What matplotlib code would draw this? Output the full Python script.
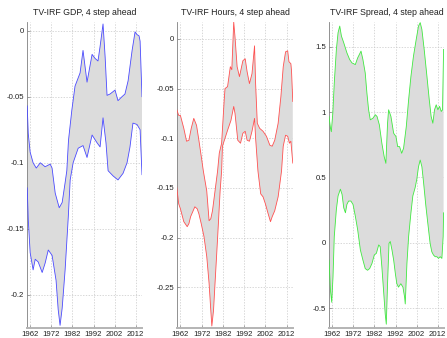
import numpy as np
import matplotlib
matplotlib.use('Agg')
import matplotlib.pyplot as plt
from matplotlib.ticker import FuncFormatter

plt.rcParams['font.family'] = ['Liberation Sans', 'DejaVu Sans']
plt.rcParams['axes.unicode_minus'] = False

# ---- GDP ----
gdp_up_t = [1960.5, 1961.0, 1961.9, 1963.3, 1964.8, 1966.7, 1969.0, 1971.4, 1972.3, 1973.8,
            1975.7, 1977.1, 1978.5, 1979.3, 1980.1, 1981.7, 1983.2, 1985.6, 1987.0, 1988.9,
            1991.3, 1992.7, 1994.1, 1995.1, 1996.5, 1997.5, 1998.4, 1999.8, 2002.2, 2003.6,
            2005.5, 2006.9, 2008.4, 2010.3, 2011.7, 2012.6, 2013.6, 2014.1, 2015.0]
gdp_up = [-0.057, -0.078, -0.092, -0.100, -0.104, -0.100, -0.103, -0.101, -0.104, -0.123,
          -0.134, -0.130, -0.115, -0.106, -0.083, -0.060, -0.042, -0.032, -0.015, -0.039,
          -0.018, -0.021, -0.023, -0.012, 0.005, -0.020, -0.049, -0.048, -0.045, -0.053,
          -0.050, -0.048, -0.038, -0.015, -0.001, -0.003, -0.004, -0.008, -0.050]
gdp_lo_t = [1960.5, 1961.0, 1961.9, 1963.3, 1964.3, 1965.7, 1967.6, 1969.0, 1970.5, 1972.3,
            1974.2, 1975.2, 1976.1, 1977.1, 1978.5, 1980.0, 1980.9, 1982.3, 1984.7, 1987.0,
            1988.9, 1991.3, 1993.7, 1995.1, 1996.5, 1997.9, 1998.9, 2001.3, 2003.6, 2006.0,
            2007.9, 2009.3, 2010.7, 2012.6, 2014.1, 2015.0]
gdp_lo = [-0.119, -0.143, -0.168, -0.181, -0.173, -0.175, -0.183, -0.176, -0.166, -0.170,
          -0.189, -0.211, -0.223, -0.210, -0.181, -0.141, -0.113, -0.100, -0.089, -0.087,
          -0.096, -0.079, -0.085, -0.088, -0.066, -0.085, -0.106, -0.110, -0.113, -0.108,
          -0.100, -0.088, -0.070, -0.071, -0.075, -0.109]

# ---- Hours ----
hrs_up_t = [1960.1, 1961.2, 1962.0, 1963.6, 1964.9, 1966.0, 1967.1, 1968.3, 1969.6, 1970.7,
            1971.8, 1972.8, 1974.4, 1975.5, 1976.3, 1977.1, 1978.3, 1979.5, 1980.3, 1981.4,
            1982.6, 1983.0, 1984.2, 1985.5, 1986.2, 1987.1, 1987.7, 1988.7, 1989.8, 1991.4,
            1992.5, 1993.4, 1994.5, 1995.7, 1996.9, 1997.4, 1998.2, 1999.3, 2000.9, 2002.5,
            2004.1, 2005.2, 2006.4, 2008.0, 2009.3, 2010.4, 2011.5, 2012.5, 2013.1, 2014.0,
            2014.3, 2014.9]
hrs_up = [-0.070, -0.077, -0.077, -0.090, -0.103, -0.102, -0.090, -0.080, -0.087, -0.102,
          -0.118, -0.133, -0.153, -0.183, -0.181, -0.173, -0.153, -0.133, -0.115, -0.105,
          -0.062, -0.050, -0.048, -0.028, -0.031, 0.017, 0.002, -0.028, -0.038, -0.022,
          -0.020, -0.033, -0.045, -0.035, -0.007, -0.045, -0.085, -0.090, -0.093, -0.098,
          -0.107, -0.108, -0.102, -0.085, -0.058, -0.028, -0.013, -0.012, -0.023, -0.025,
          -0.032, -0.063]
hrs_lo_t = [1960.1, 1961.2, 1962.0, 1963.6, 1965.2, 1966.0, 1966.8, 1968.0, 1968.8, 1969.9,
            1970.7, 1971.8, 1973.1, 1974.4, 1975.5, 1976.3, 1976.8, 1977.6, 1978.3, 1979.1,
            1979.8, 1980.7, 1981.4, 1981.8, 1984.2, 1985.8, 1987.1, 1987.7, 1989.0, 1990.3,
            1991.4, 1992.5, 1993.4, 1994.5, 1995.7, 1996.9, 1997.4, 1998.5, 1999.8, 2000.9,
            2002.0, 2003.3, 2004.4, 2005.2, 2006.4, 2008.0, 2008.8, 2009.6, 2010.4, 2011.5,
            2012.5, 2013.3, 2014.0, 2014.9]
hrs_lo = [-0.146, -0.166, -0.171, -0.184, -0.189, -0.186, -0.179, -0.173, -0.169, -0.171,
          -0.176, -0.186, -0.199, -0.219, -0.246, -0.273, -0.289, -0.273, -0.246, -0.216,
          -0.189, -0.153, -0.133, -0.108, -0.092, -0.082, -0.068, -0.075, -0.102, -0.105,
          -0.095, -0.093, -0.102, -0.103, -0.093, -0.080, -0.100, -0.133, -0.156, -0.159,
          -0.166, -0.176, -0.184, -0.179, -0.173, -0.159, -0.146, -0.133, -0.108, -0.097,
          -0.098, -0.105, -0.103, -0.125]

# ---- Spread ----
spr_up_t = [1960.4, 1961.1, 1961.5, 1962.2, 1962.9, 1963.9, 1964.7, 1965.5, 1966.3, 1967.4,
            1968.9, 1970.2, 1971.3, 1972.9, 1974.0, 1975.6, 1976.5, 1977.6, 1978.4, 1979.2,
            1980.0, 1981.3, 1982.4, 1983.2, 1984.3, 1985.5, 1986.6, 1987.4, 1988.2, 1988.7,
            1989.8, 1991.1, 1992.2, 1993.0, 1993.9, 1994.9, 1995.8, 1997.1, 1998.2, 1999.3,
            2000.5, 2001.8, 2002.9, 2003.7, 2004.5, 2005.6, 2006.9, 2008.0, 2008.9, 2009.7,
            2010.5, 2011.3, 2012.1, 2012.9, 2013.7, 2014.3, 2014.8]
spr_up = [0.967, 0.877, 0.850, 0.990, 1.223, 1.480, 1.608, 1.659, 1.582, 1.531,
          1.454, 1.403, 1.377, 1.364, 1.415, 1.467, 1.403, 1.300, 1.146, 1.018,
          0.941, 0.954, 0.980, 0.967, 0.903, 0.762, 0.659, 0.608, 0.915, 1.018,
          0.967, 0.838, 0.813, 0.736, 0.736, 0.685, 0.723, 0.890, 1.095, 1.274,
          1.428, 1.556, 1.659, 1.685, 1.633, 1.479, 1.274, 1.095, 0.967, 0.915,
          1.018, 1.056, 1.018, 1.044, 1.005, 1.018, 1.480]
spr_lo_t = [1960.4, 1961.1, 1961.7, 1962.3, 1962.9, 1963.9, 1964.7, 1965.8, 1966.6, 1967.4,
            1968.2, 1968.9, 1969.7, 1970.8, 1971.8, 1972.9, 1974.0, 1975.3, 1976.5, 1977.6,
            1978.7, 1979.7, 1980.8, 1981.9, 1982.9, 1984.0, 1984.7, 1985.5, 1986.3, 1987.1,
            1987.6, 1988.2, 1988.9, 1989.5, 1990.3, 1991.1, 1991.9, 1992.6, 1993.4, 1994.5,
            1995.5, 1996.3, 1996.6, 1997.4, 1998.2, 1999.3, 2000.2, 2001.3, 2002.1, 2002.9,
            2003.7, 2004.5, 2005.3, 2006.4, 2007.3, 2008.4, 2009.2, 2010.0, 2010.8, 2011.6,
            2012.4, 2013.2, 2014.0, 2014.6, 2014.8]
spr_lo = [-0.133, -0.366, -0.456, -0.262, 0.047, 0.255, 0.358, 0.410, 0.370, 0.267,
          0.229, 0.293, 0.319, 0.319, 0.293, 0.203, 0.100, -0.056, -0.133, -0.198,
          -0.211, -0.198, -0.159, -0.094, -0.081, -0.017, -0.030, -0.185, -0.366, -0.547,
          -0.624, -0.314, -0.004, 0.009, -0.056, -0.133, -0.236, -0.314, -0.340, -0.314,
          -0.340, -0.417, -0.469, -0.159, 0.047, 0.229, 0.358, 0.422, 0.487, 0.582,
          0.633, 0.582, 0.461, 0.280, 0.151, -0.004, -0.069, -0.094, -0.107, -0.107,
          -0.120, -0.107, -0.120, 0.047, 0.229]

panels = [
    ('TV-IRF GDP, 4 step ahead', gdp_up_t, gdp_up, gdp_lo_t, gdp_lo, '#4a4aff',
     (-0.225, 0.0065), [-0.2, -0.15, -0.1, -0.05, 0]),
    ('TV-IRF Hours, 4 step ahead', hrs_up_t, hrs_up, hrs_lo_t, hrs_lo, '#ff5050',
     (-0.291, 0.017), [-0.25, -0.2, -0.15, -0.1, -0.05, 0]),
    ('TV-IRF Spread, 4 step ahead', spr_up_t, spr_up, spr_lo_t, spr_lo, '#40e840',
     (-0.653, 1.69), [-0.5, 0, 0.5, 1, 1.5]),
]
xticks = [1962, 1972, 1982, 1992, 2002, 2012]

W, H = 447, 338
fig = plt.figure(figsize=(W / 100, H / 100), dpi=100)
lefts = [27, 177, 329]
widths = [115, 116, 115]

for (title, ut, uv, lt, lv, col, ylim, yt), l, w in zip(panels, lefts, widths):
    ax = fig.add_axes([l / W, 10 / H, w / W, 306 / H])
    px = np.r_[ut, lt[::-1]]
    py = np.r_[uv, lv[::-1]]
    ax.fill(px, py, color='#dcdcdc', lw=0, zorder=1)
    ax.plot(ut, uv, color=col, lw=0.6, zorder=3)
    ax.plot(lt, lv, color=col, lw=0.6, zorder=3)
    ax.set_xlim(1960.4, 2015.0)
    ax.set_ylim(*ylim)
    ax.set_xticks(xticks)
    ax.set_yticks(yt)
    ax.yaxis.set_major_formatter(FuncFormatter(lambda v, p: '%g' % v))
    ax.grid(True, color='#c8c8c8', ls=(0, (2, 2)), lw=0.5, zorder=0)
    ax.set_axisbelow(True)
    for s in ['top', 'right']:
        ax.spines[s].set_visible(False)
    ax.spines['left'].set_color('#808080')
    ax.spines['left'].set_linewidth(0.6)
    ax.spines['bottom'].set_color('#b4b4b4')
    ax.spines['bottom'].set_linewidth(1.4)
    ax.tick_params(direction='in', length=2, width=0.5, color='#808080',
                   labelsize=5.6, pad=2, labelcolor='#222222')
    ax.set_title(title, fontsize=6.3, pad=5, color='#222222')

fig.savefig('out.png', dpi=100)
